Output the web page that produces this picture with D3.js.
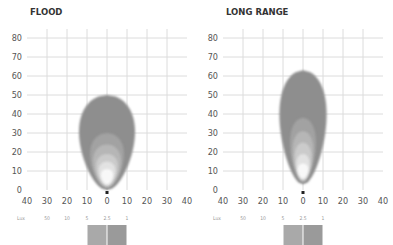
<!DOCTYPE html>
<html>
<head>
<meta charset="utf-8">
<script src="https://cdn.jsdelivr.net/npm/d3@7"></script>
<style>
  body { margin: 0; background: #fff; }
  text { font-family: "DejaVu Sans Condensed", "DejaVu Sans", sans-serif; }
  .tick-label { font-size: 9px; fill: #555; }
  .title { font-size: 8.5px; font-weight: bold; fill: #333; font-family: "DejaVu Sans", sans-serif; }
  .lux { font-size: 5px; fill: #999; }
</style>
</head>
<body>
<script>
var width = 393, height = 245;

// beam charts
var titles = ["FLOOD", "LONG RANGE"];
var yTicks = [0, 10, 20, 30, 40, 50, 60, 70, 80];
var xTicks = [-40, -30, -20, -10, 0, 10, 20, 30, 40];

// isolux contours (metres): base, reach, half width
var floodBase = [0, 1, 1.5, 2, 2.5, 3];
var floodReach = [50, 30, 24, 19, 15, 11];
var floodHalf = [14, 8.5, 7, 5.5, 4.2, 3];

var longBase = [3, 4, 4.5, 5, 5.5, 6];
var longReach = [63, 38, 31, 25, 19, 14];
var longHalf = [11.8, 6.5, 5.2, 4.2, 3.3, 2.6];

var contourColors = ["#8e8e8e", "#a2a2a2", "#b6b6b6", "#cbcbcb", "#e2e2e2", "#f8f8f8"];

// lux legend
var luxLabels = ["Lux", "50", "10", "5", "2.5", "1"];
var luxPos = [-43, -30, -20, -10, 0, 10];
var luxBoxes = [-10, 0];
var luxBoxColors = ["#a9a9a9", "#9a9a9a"];

var svg = d3.select('body').append('svg').attr('width', width).attr('height', height);

var y = d3.scaleLinear().domain([0, 80]).range([190, 38]);

// egg shaped outline, widest above the middle
function eggPath(x, base, reach, half) {
    var n = 60, pts = [], i, t, f, max = 0;
    var fs = [];
    for (i = 0; i <= n; i++) {
        t = i / n;
        f = Math.sqrt(Math.max(0, t * (1 - t))) * (0.6 + 0.4 * t);
        fs.push(f);
        if (f > max) max = f;
    }
    for (i = 0; i <= n; i++) {
        t = i / n;
        pts.push([x(half * fs[i] / max), y(base + (reach - base) * t)]);
    }
    for (i = n; i >= 0; i--) {
        t = i / n;
        pts.push([x(-half * fs[i] / max), y(base + (reach - base) * t)]);
    }
    return d3.line()(pts) + "Z";
}

function drawChart(left, title, bases, reaches, halves) {
    var x = d3.scaleLinear().domain([-40, 40]).range([left, left + 160]);
    var g = svg.append("g");

    // grid
    g.selectAll(".hgrid").data(yTicks.filter(function (d) { return d > 0; }))
        .enter().append("line")
        .attr("x1", x(-40)).attr("x2", x(40))
        .attr("y1", function (d) { return y(d); })
        .attr("y2", function (d) { return y(d); })
        .attr("stroke", "#dcdcdc").attr("stroke-width", 1);

    g.selectAll(".vgrid").data(xTicks.filter(function (d) { return Math.abs(d) < 40; }))
        .enter().append("line")
        .attr("x1", function (d) { return x(d); })
        .attr("x2", function (d) { return x(d); })
        .attr("y1", y(80) - 9).attr("y2", y(0))
        .attr("stroke", "#dcdcdc").attr("stroke-width", 1);

    // contours
    g.selectAll(".beam").data(d3.range(bases.length))
        .enter().append("path")
        .attr("d", function (i) { return eggPath(x, bases[i], reaches[i], halves[i]); })
        .attr("fill", function (i) { return contourColors[i]; })
        .style("filter", "blur(0.8px)");

    // lamp marker
    g.append("rect")
        .attr("x", x(0) - 1.5).attr("y", y(0) + 1)
        .attr("width", 3).attr("height", 3)
        .attr("fill", "#222");

    // y labels
    g.selectAll(".ylab").data(yTicks)
        .enter().append("text")
        .attr("class", "tick-label")
        .attr("x", left - 5)
        .attr("y", function (d) { return y(d) + 3; })
        .attr("text-anchor", "end")
        .text(function (d) { return d; });

    // x labels
    g.selectAll(".xlab").data(xTicks)
        .enter().append("text")
        .attr("class", "tick-label")
        .attr("x", function (d) { return x(d); })
        .attr("y", 204)
        .attr("text-anchor", "middle")
        .text(function (d) { return Math.abs(d); });

    g.append("text")
        .attr("class", "title")
        .attr("x", left + 3).attr("y", 15)
        .text(title);

    // lux legend
    g.selectAll(".lux").data(luxLabels)
        .enter().append("text")
        .attr("class", "lux")
        .attr("x", function (d, i) { return x(luxPos[i]); })
        .attr("y", 220)
        .attr("text-anchor", "middle")
        .text(function (d) { return d; });

    g.selectAll(".luxbox").data(luxBoxes)
        .enter().append("rect")
        .attr("x", function (d) { return x(d) + 0.5; })
        .attr("y", 225)
        .attr("width", function (d) { return x(d + 10) - x(d) - 1; })
        .attr("height", 20)
        .attr("fill", function (d, i) { return luxBoxColors[i]; });
}

drawChart(27, titles[0], floodBase, floodReach, floodHalf);
drawChart(223, titles[1], longBase, longReach, longHalf);
</script>
</body>
</html>
